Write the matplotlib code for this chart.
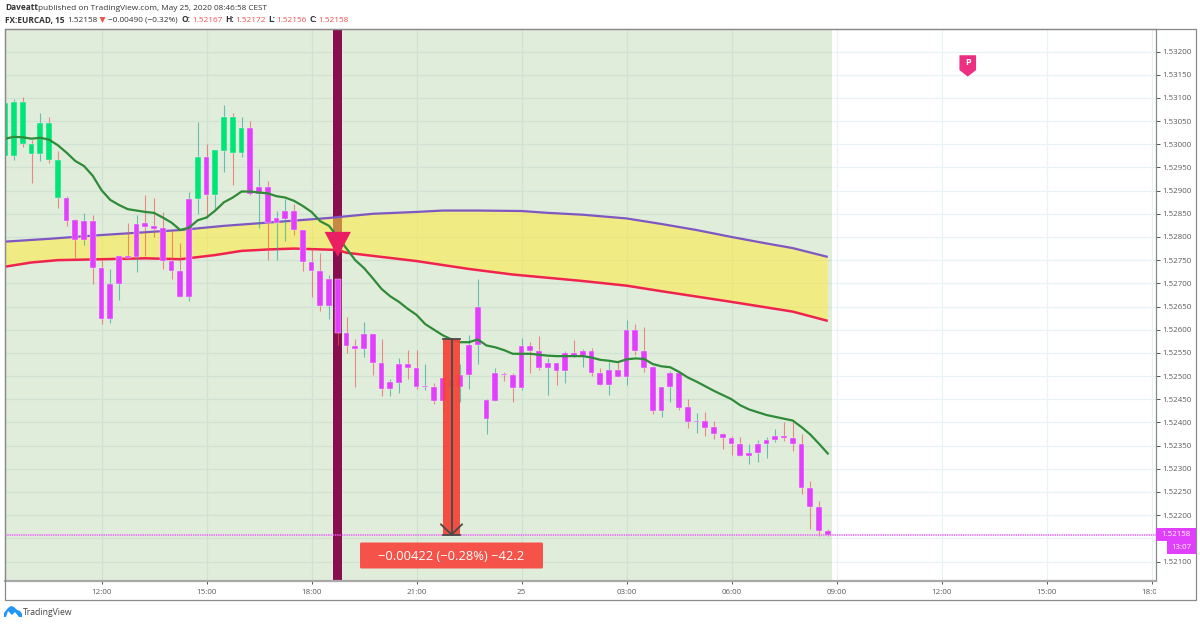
import matplotlib
matplotlib.use("Agg")
import matplotlib.pyplot as plt
from matplotlib.patches import Polygon, Rectangle, FancyBboxPatch
from matplotlib.transforms import Affine2D, Bbox

plt.rcParams['font.family'] = ['Open Sans', 'DejaVu Sans']

# Prices are in units of 0.00001
highs = [153128,153097,153101,153009,153068,153058,152986,152888,152838,152851,152847,152750,152732,152760,152831,152847,152890,152884,152853,152814,152788,152897,153049,153000,152988,153084,153068,153058,153051,152947,152920,152857,152881,152871,152815,152775,152766,152719,
         152710,152627,152579,152617,152590,152581,152493,152539,152557,152557,152526,152484,152496,152495,152526,152589,152709,152450,152517,152509,152506,152583,152574,152587,152538,152529,152553,152578,152558,152560,
         152518,152531,152531,152621,152612,152605,152522,152477,152511,152507,152450,152421,152422,152403,152378,152371,152369,152353,152362,152369,152385,152400,152400,152374,152273,152231,152171]
tops = [153088,153091,153091,153001,153045,153045,152967,152885,152836,152834,152834,152734,152699,152760,152760,152829,152830,152823,152819,152749,152727,152882,152972,152972,152988,153058,153058,153034,153034,152907,152907,152841,152857,152857,152814,152746,152726,152710,
        152710,152592,152565,152590,152590,152529,152487,152526,152526,152517,152478,152476,152496,152491,152503,152568,152649,152448,152506,152505,152502,152565,152565,152555,152529,152529,152550,152550,152555,152555,
        152507,152513,152513,152599,152599,152555,152519,152477,152506,152506,152433,152403,152403,152390,152376,152367,152353,152335,152353,152362,152371,152371,152366,152353,152259,152217,152166]
bottoms = [152975,152975,153000,152979,152979,152967,152885,152835,152793,152793,152734,152624,152624,152698,152755,152756,152822,152817,152749,152727,152671,152671,152882,152890,152890,152986,152982,152982,152892,152892,152831,152831,152839,152814,152746,152726,152651,152651,
           152592,152565,152558,152558,152529,152472,152472,152486,152517,152476,152476,152447,152447,152476,152476,152502,152567,152408,152447,152502,152474,152474,152553,152517,152517,152511,152511,152543,152543,152506,
           152480,152480,152497,152497,152554,152518,152425,152425,152476,152432,152401,152401,152389,152376,152366,152353,152328,152328,152335,152353,152361,152366,152353,152259,152217,152166,152158]
lows = [152975,152966,152993,152916,152964,152960,152863,152824,152755,152783,152698,152612,152615,152664,152755,152725,152759,152799,152732,152709,152671,152661,152849,152842,152858,152941,152912,152973,152890,152819,152750,152750,152792,152804,152726,152671,152641,152624,
        152567,152550,152477,152542,152503,152457,152456,152463,152493,152473,152470,152440,152427,152470,152445,152473,152525,152375,152447,152489,152444,152470,152506,152513,152460,152481,152484,152542,152519,152501,
        152480,152459,152497,152481,152545,152509,152418,152411,152445,152427,152389,152378,152371,152364,152343,152330,152328,152311,152314,152324,152358,152360,152338,152246,152170,152155,152155]
body_kinds = "GGGGGGG" + "MMMMMMMMMMMMMMM" + "GM" + "GGGG" + "M"*67
wick_kinds = ("RTRRTRRRRT" "RRTTRTRRRR" "RTTRTTRTRT" "RTTRRRRTRR" "RTRRTTRRTR"
              "TRTTTTTRRT" "RRTRTRTRRT" "RTRRRTTRRT" "RRRRRTTTTR" "RRRRR")

ema_green = [153012,153016,153015,153012,153014,153010,152998,152982,152964,152953,152932,152901,152880,152869,152860,152857,152854,152852,152842,152831,152815,152820,152836,152842,152857,152875,152885,152898,152898,152896,152894,152888,152885,152878,152867,152854,152834,152824,
             152800,152775,152750,152733,152711,152688,152672,152660,152645,152632,152612,152600,152588,152579,152573,152573,152579,152566,152562,152556,152548,152548,152548,152546,152544,152543,152543,152543,152543,152540,
             152535,152533,152530,152536,152538,152537,152526,152521,152519,152509,152497,152488,152478,152468,152459,152450,152437,152428,152422,152416,152412,152408,152404,152390,152374,152354,152333]
upper_bars = [0,5,10,15,20,25,30,37,42,47,50,54,59,62,66,71,75,79,83,87,90,94]
upper_vals = [152790,152796,152803,152809,152815,152824,152831,152841,152850,152854,152857,152857,152856,152852,152848,152840,152828,152815,152800,152786,152776,152757]
lower_bars = [0,3,6,11,16,20,24,27,30,33,38,39,47,53,58,66,71,75,83,90,94]
lower_vals = [152736,152745,152750,152752,152754,152752,152761,152770,152773,152775,152772,152766,152748,152731,152719,152705,152695,152683,152660,152639,152619]

last_price = 152158
measure_top = 152580
measure_bars = (50, 52)
signal_bar = 38
pin_bar = 110
xtick_bars = [11,23,35,47,59,71,83,95,107,119,131]
xtick_labels = ["12:00","15:00","18:00","21:00","25","03:00","06:00","09:00","12:00","15:00","18:00"]
ytick_vals = list(range(152100, 153201, 50))
P = 1e5

fig = plt.figure(figsize=(12, 6.25), dpi=100, facecolor='white')
px = Affine2D().scale(1/1200, -1/625).translate(0, 1) + fig.transFigure

L, R, T, B = 4.5, 1155.5, 29, 581
ax = fig.add_axes([L/1200, 1-B/625, (R-L)/1200, (B-T)/625], facecolor='white')
ax.set_xlim((L-5.25)/8.75, (R-5.25)/8.75)
ax.set_ylim((152100 - (B-561.5)*2.157)/P, (152100 + (561.5-T)*2.157)/P)

ax.set_axisbelow(True)
ax.grid(True, color='#e9f2f6', lw=0.9)
for s in ax.spines.values():
    s.set_color('#8a8a8a'); s.set_linewidth(0.9)
ax.spines['bottom'].set_color('#a8a8a8'); ax.spines['bottom'].set_linewidth(1.6)

ax.yaxis.tick_right()
ax.set_yticks([v/P for v in ytick_vals])
ax.set_yticklabels([f"{v/P:.5f}" for v in ytick_vals])
ax.set_xticks(xtick_bars)
ax.set_xticklabels(xtick_labels)
ax.tick_params(axis='y', length=3, width=0.7, color='#555', labelcolor='#5a5a5a', labelsize=5.7, pad=2.2)
ax.tick_params(axis='x', length=2.5, width=0.7, color='#555', labelcolor='#5a5a5a', labelsize=5.8, pad=3.5)
clip = Bbox([[0, 0], [R, 625]])
for t in ax.get_xticklabels():
    t.set_clip_on(True); t.set_clip_box(clip)

# session background, signal column, band between averages
ax.axvspan((L-5.25)/8.75, 94.5, color=(0.41, 0.647, 0.295), alpha=0.2, lw=0, zorder=1)
ax.axvspan(signal_bar-0.55, signal_bar+0.5, color='#880e4f', lw=0, zorder=1.5)

band = list(zip(upper_bars, [v/P for v in upper_vals])) + list(zip(lower_bars[::-1], [v/P for v in lower_vals[::-1]]))
ax.add_patch(Polygon(band, closed=True, facecolor='#ffeb3b', alpha=0.55, lw=0, zorder=2))
ax.plot(upper_bars, [v/P for v in upper_vals], color='#7e57c2', lw=1.6, zorder=2.5, solid_capstyle='butt')
ax.plot(lower_bars, [v/P for v in lower_vals], color='#f0234f', lw=1.8, zorder=2.5, solid_capstyle='butt')

# candles
for k in range(len(highs)):
    wc = '#26a69a' if wick_kinds[k] == 'T' else '#ef5350'
    ax.vlines(k, lows[k]/P, highs[k]/P, color=wc, lw=0.8, alpha=0.65, zorder=3)
    bc = '#00e676' if body_kinds[k] == 'G' else '#e040fb'
    ax.bar(k, (tops[k]-bottoms[k])/P, bottom=bottoms[k]/P, width=0.68, color=bc,
           edgecolor='#f4e6f8', linewidth=0.3, zorder=3.5)

ax.plot(range(len(ema_green)), [v/P for v in ema_green], color='#2e8b37', lw=1.6, zorder=4)

# last price line
ax.axhline(last_price/P, color='#e85cfb', lw=1.1, ls=(0, (0.9, 0.6)), zorder=4)

# measure tool
m0, m1 = measure_bars
mid = (m0+m1)/2
ax.add_patch(Rectangle((m0, last_price/P), m1-m0, (measure_top-last_price)/P,
                       facecolor='#f44336', alpha=0.93, lw=0, zorder=5))
ax.plot([m0, m1], [measure_top/P]*2, color='#4a4a4a', lw=1.3, zorder=5.5)
ax.plot([m0, m1], [last_price/P]*2, color='#4a4a4a', lw=1.3, zorder=5.5)
ax.plot([mid, mid], [last_price/P, measure_top/P], color='#4a4a4a', lw=1.3, zorder=5.5)
ax.plot([mid-1.2, mid, mid+1.2], [(last_price+22)/P, last_price/P, (last_price+22)/P],
        color='#4a4a4a', lw=1.3, zorder=5.5)

# signal triangle and pin
ax.add_patch(Polygon([(signal_bar-1.5, 152811/P), (signal_bar+1.5, 152811/P), (signal_bar, 152757/P)],
                     closed=True, facecolor='#e91e63', lw=0, zorder=6))
ax.add_patch(Polygon([(pin_bar-0.95, 153192/P), (pin_bar+0.95, 153192/P), (pin_bar+0.95, 153160/P),
                      (pin_bar, 153146/P), (pin_bar-0.95, 153160/P)],
                     closed=True, facecolor='#ec2f80', lw=0, zorder=6))
ax.text(pin_bar, 153176/P, "P", color='white', fontsize=6.5, fontweight='bold', ha='center', va='center', zorder=7)

# ---- figure level furniture, in pixels
fig.add_artist(Rectangle((4.5, 29), 1191.5, 571, transform=px, fill=False, ec='#8a8a8a', lw=0.9, zorder=0.5))
fig.add_artist(FancyBboxPatch((360, 542.5), 183, 26, boxstyle="round,pad=0,rounding_size=1.5",
                              transform=px, fc='#f5534a', ec='none', zorder=8))
fig.text(451, 556, "\u22120.00422 (\u22120.28%) \u221242.2", transform=px, color='white', fontsize=9.3,
         ha='center', va='center', zorder=9)
fig.add_artist(Rectangle((1156, 528), 40, 13, transform=px, fc='#e040fb', ec='none', zorder=8))
fig.add_artist(Rectangle((1167, 541), 29, 13, transform=px, fc='#e040fb', ec='none', zorder=8))
fig.text(1175.5, 534.2, f"{last_price/P:.5f}", transform=px, color='white', fontsize=5.7, ha='center', va='center', zorder=9)
fig.text(1181.5, 547.6, "13:07", transform=px, color='white', fontsize=5.7, ha='center', va='center', zorder=9)

def hdr(x, y, s, **kw):
    kw.setdefault('color', '#333333')
    fig.text(x, y, s, transform=px, fontsize=kw.pop('fontsize', 5.95), ha='left', va='center', **kw)

hdr(5, 8, "Daveatt", fontweight='bold')
hdr(38, 8, "published on TradingView.com, May 25, 2020 08:46:58 CEST")
hdr(5, 20, "FX:EURCAD, 15", fontweight='bold')
hdr(67, 20, "1.52158")
fig.add_artist(Polygon([(99.5, 17), (105.5, 17), (102.5, 23)], closed=True, transform=px, fc='#ef5350', ec='none'))
hdr(108, 20, "\u22120.00490 (\u22120.32%)")
red = '#ef5350'
for x, lab, xv, val in [(182, "O:", 192, "1.52167"), (225, "H:", 235, "1.52172"),
                        (268, "L:", 276, "1.52156"), (309, "C:", 318, "1.52158")]:
    hdr(x, 20, lab, fontweight='bold')
    hdr(xv, 20, val, color=red)

# TradingView logo
fig.add_artist(Polygon([(4, 617), (4, 613), (8, 608), (11, 606), (14, 607), (17, 610), (20, 611), (22, 614), (22, 617), (19, 617),
                        (15, 612), (12, 615), (8, 611), (6, 617)],
                       closed=True, transform=px, fc='#2196f3', ec='none'))
fig.text(23, 612.5, "TradingView", transform=px, color='#444444', fontsize=6.2, ha='left', va='center')

fig.savefig("out.png", dpi=100)
